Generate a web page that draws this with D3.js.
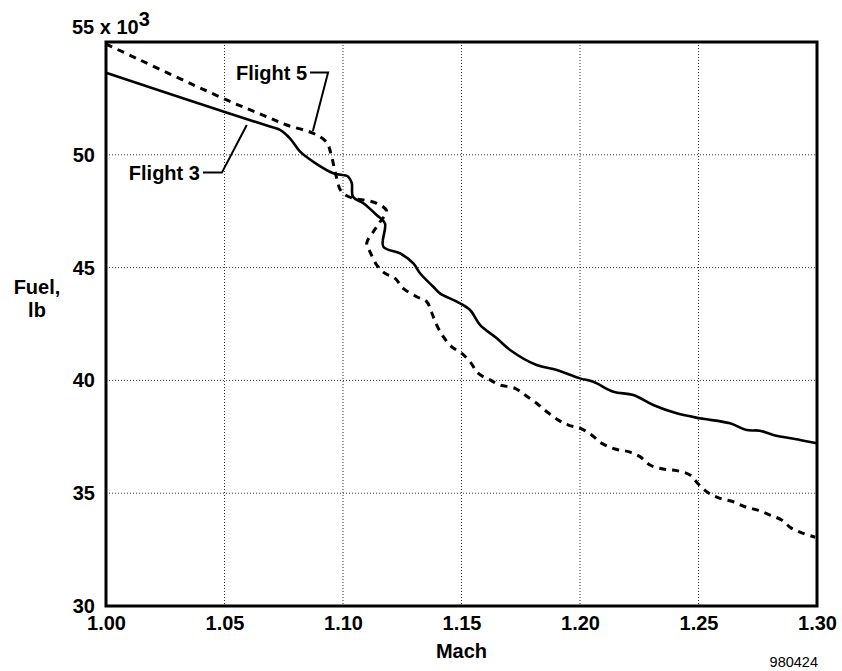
<!DOCTYPE html>
<html>
<head>
<meta charset="utf-8">
<script src="https://cdn.jsdelivr.net/npm/d3@7/dist/d3.min.js"></script>
<style>
  html, body { margin: 0; padding: 0; background: #fff; }
  svg { display: block; font-family: "Liberation Sans", Arial, Helvetica, sans-serif; }
  .tick text, .lbl { font-weight: bold; font-size: 20px; fill: #000; }
</style>
</head>
<body>
<svg id="chart" width="842" height="671"></svg>
<script>
// Flight 3 (solid): Mach number and fuel remaining (thousands of lb)
const flight3Mach = [1.000, 1.0498, 1.0692, 1.0734, 1.0776, 1.0819, 1.0875, 1.0959, 1.1022, 1.1037,
  1.1042, 1.1086, 1.1142, 1.1177, 1.1170, 1.1241, 1.1297, 1.1325, 1.1381, 1.1409,
  1.1480, 1.1536, 1.1578, 1.1649, 1.1705, 1.1817, 1.1902, 1.2000, 1.2056, 1.2141,
  1.2225, 1.2309, 1.2408, 1.2506, 1.2633, 1.2703, 1.2759, 1.2816, 1.2928, 1.3000];
const flight3Fuel = [53.64, 51.91, 51.25, 51.10, 50.73, 50.14, 49.69, 49.18, 49.03, 48.75,
  48.14, 47.85, 47.33, 46.96, 45.93, 45.63, 45.19, 44.75, 44.15, 43.86,
  43.49, 43.12, 42.46, 41.87, 41.35, 40.68, 40.46, 40.09, 39.94, 39.50,
  39.35, 38.91, 38.54, 38.32, 38.10, 37.80, 37.77, 37.58, 37.36, 37.21];

// Flight 5 (dashed)
const flight5Mach = [1.000, 1.0509, 1.0678, 1.0762, 1.0875, 1.0931, 1.0952, 1.0970, 1.0994, 1.1043,
  1.1086, 1.1142, 1.1184, 1.1156, 1.1128, 1.1100, 1.1114, 1.1142, 1.1177, 1.1219,
  1.1254, 1.1311, 1.1353, 1.1374, 1.1395, 1.1423, 1.1459, 1.1501, 1.1536, 1.1571,
  1.1620, 1.1662, 1.1726, 1.1768, 1.1817, 1.1860, 1.1909, 1.1951, 1.2000, 1.2049,
  1.2092, 1.2148, 1.2204, 1.2253, 1.2295, 1.2351, 1.2408, 1.2464, 1.2499, 1.2541,
  1.2591, 1.2647, 1.2696, 1.2746, 1.2802, 1.2851, 1.2893, 1.2942, 1.2992];
const flight5Fuel = [54.91, 52.43, 51.69, 51.32, 50.95, 50.55, 49.92, 49.10, 48.36, 48.07,
  48.00, 47.85, 47.51, 47.02, 46.59, 46.08, 45.70, 45.12, 44.75, 44.53,
  44.08, 43.71, 43.49, 43.01, 42.46, 41.94, 41.49, 41.20, 40.83, 40.31,
  40.02, 39.80, 39.65, 39.35, 38.99, 38.61, 38.24, 38.02, 37.88, 37.58,
  37.21, 36.96, 36.84, 36.62, 36.25, 36.07, 36.00, 35.81, 35.41, 35.02,
  34.77, 34.62, 34.40, 34.26, 34.03, 33.81, 33.44, 33.22, 33.05];

const machTicks = [1.00, 1.05, 1.10, 1.15, 1.20, 1.25, 1.30];
const fuelTicks = [30, 35, 40, 45, 50, 55];

// Callout leaders: label, elbow start, elbow end, point on the curve (Mach, fuel)
const callouts = [
  { text: "Flight 5", from: [1.0861, 53.65], elbow: [1.0937, 53.65], to: [1.0873, 51.06] },
  { text: "Flight 3", from: [1.0409, 49.21], elbow: [1.0489, 49.21], to: [1.0594, 51.32] }
];

const svg = d3.select("#chart");
const W = 842, H = 671;
const m = { left: 106, top: 42, right: 25, bottom: 65 };

const x = d3.scaleLinear().domain([1.0, 1.3]).range([m.left, W - m.right]);
const y = d3.scaleLinear().domain([30, 55]).range([H - m.bottom, m.top]);

// dotted grid
const grid = svg.append("g").attr("stroke", "#333").attr("stroke-width", 1)
  .attr("stroke-dasharray", "1,2");
grid.selectAll("line.v").data(machTicks.slice(1, -1)).join("line")
  .attr("x1", d => x(d)).attr("x2", d => x(d))
  .attr("y1", y(55)).attr("y2", y(30));
grid.selectAll("line.h").data(fuelTicks.slice(1, -1)).join("line")
  .attr("x1", x(1.0)).attr("x2", x(1.3))
  .attr("y1", d => y(d)).attr("y2", d => y(d));

// curves
const line = d3.line().x(d => x(d[0])).y(d => y(d[1])).curve(d3.curveCatmullRom.alpha(0.5));
svg.append("path")
  .datum(flight3Mach.map((v, i) => [v, flight3Fuel[i]]))
  .attr("d", line).attr("fill", "none").attr("stroke", "#000")
  .attr("stroke-width", 2.6).attr("stroke-linejoin", "round");
svg.append("path")
  .datum(flight5Mach.map((v, i) => [v, flight5Fuel[i]]))
  .attr("d", line).attr("fill", "none").attr("stroke", "#000")
  .attr("stroke-width", 3).attr("stroke-dasharray", "7,6");

// frame
svg.append("rect")
  .attr("x", x(1.0)).attr("y", y(55))
  .attr("width", x(1.3) - x(1.0)).attr("height", y(30) - y(55))
  .attr("fill", "none").attr("stroke", "#000").attr("stroke-width", 3);

// axes
const xAxis = svg.append("g").attr("transform", `translate(0,${y(30)})`)
  .call(d3.axisBottom(x).tickValues(machTicks).tickSize(0).tickPadding(10).tickFormat(d3.format(".2f")));
xAxis.select(".domain").remove();

const yAxis = svg.append("g").attr("transform", `translate(${x(1.0)},0)`)
  .call(d3.axisLeft(y).tickValues(fuelTicks).tickSize(0).tickPadding(11).tickFormat(d3.format("d")));
yAxis.select(".domain").remove();

// the top tick carries the scale factor
yAxis.selectAll(".tick").filter(d => d === 55).select("text")
  .attr("text-anchor", "start").attr("x", -34).attr("dy", "-0.45em")
  .text(null)
  .call(t => {
    t.append("tspan").text("55 x 10");
    t.append("tspan").attr("dy", "-0.4em").attr("font-size", "20px").text("3");
  });

// axis titles
svg.append("text").attr("class", "lbl").attr("x", x(1.15)).attr("y", 658)
  .attr("text-anchor", "middle").text("Mach");
svg.append("text").attr("class", "lbl").attr("x", 37).attr("y", 294)
  .attr("text-anchor", "middle").text("Fuel,");
svg.append("text").attr("class", "lbl").attr("x", 37).attr("y", 317)
  .attr("text-anchor", "middle").text("lb");

// figure number
svg.append("text").attr("x", x(1.3) + 1).attr("y", 667).attr("text-anchor", "end")
  .attr("font-size", "14.5px").attr("fill", "#000").text("980424");

// callouts
callouts.forEach(c => {
  svg.append("path")
    .attr("d", d3.line()([[x(c.from[0]), y(c.from[1])], [x(c.elbow[0]), y(c.elbow[1])], [x(c.to[0]), y(c.to[1])]]))
    .attr("fill", "none").attr("stroke", "#000").attr("stroke-width", 2);
  svg.append("text").attr("class", "lbl")
    .attr("x", x(c.from[0]) - 3).attr("y", y(c.from[1]) + 7.5)
    .attr("text-anchor", "end").text(c.text);
});
</script>
</body>
</html>
